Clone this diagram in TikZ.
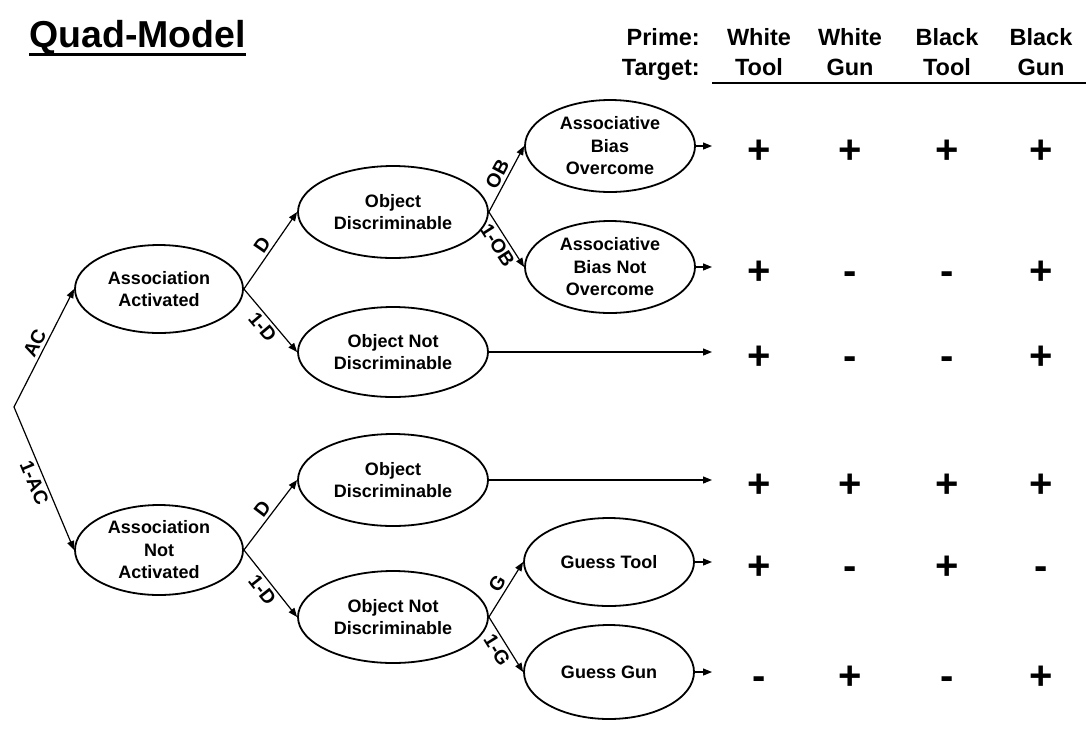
\documentclass[tikz,border=0pt]{standalone}
\usepackage{fontspec}
\setmainfont{Liberation Sans}
\usetikzlibrary{shapes.geometric,arrows.meta}
\begin{document}
\begin{tikzpicture}[x=1pt,y=-1pt,
  st/.style={draw, ellipse, line width=1.8pt, inner sep=0pt, align=center,
    font=\fontsize{18}{22.5}\selectfont\bfseries},
  conn/.style={line width=1.2pt, -{Triangle[length=9pt,width=7pt]}},
  lab/.style={sloped, font=\fontsize{19.5}{20}\selectfont\bfseries, inner sep=3pt},
  sym/.style={anchor=base, font=\fontsize{40}{40}\selectfont\bfseries, inner sep=0pt},
  hdr/.style={anchor=base, font=\fontsize{23.5}{26}\selectfont\bfseries, inner sep=0pt}]
\useasboundingbox (0,0) rectangle (1086,729);

% title
\node[anchor=base west, inner sep=0pt, font=\fontsize{37.5}{40}\selectfont\bfseries] (title) at (29,47) {Quad-Model};
\draw[line width=3pt] ([yshift=-7pt]title.base west) -- ([yshift=-7pt]title.base east);

% header
\node[hdr, anchor=base east] (prime) at (700,45) {Prime:};
\node[hdr] (p1) at (759,45) {White};
\node[hdr] (p2) at (850,45) {White};
\node[hdr] (p3) at (947,45) {Black};
\node[hdr] (p4) at (1041,45) {Black};
\node[hdr, anchor=base east] (target) at (700,75) {Target:};
\node[hdr] (t1) at (759,75) {Tool};
\node[hdr] (t2) at (850,75) {Gun};
\node[hdr] (t3) at (947,75) {Tool};
\node[hdr] (t4) at (1041,75) {Gun};
\coordinate (hl) at (712,83);
\coordinate (hr) at (1086,83);
\draw[line width=1.5pt] (hl) -- (hr);

% tree nodes
\coordinate (root) at (14,407);
\node[st, minimum width=168pt, minimum height=88pt] (aa) at (159,289) {Association\\Activated};
\node[st, minimum width=168pt, minimum height=90pt] (ana) at (159,550) {Association\\Not\\Activated};
\node[st, minimum width=190pt, minimum height=92pt] (od1) at (393,212) {Object\\Discriminable};
\node[st, minimum width=190pt, minimum height=90pt] (ond1) at (393,352) {Object Not\\Discriminable};
\node[st, minimum width=190pt, minimum height=92pt] (od2) at (393,480) {Object\\Discriminable};
\node[st, minimum width=190pt, minimum height=92pt] (ond2) at (393,617) {Object Not\\Discriminable};
\node[st, minimum width=170pt, minimum height=92pt] (abo) at (610,146) {Associative\\Bias\\Overcome};
\node[st, minimum width=170pt, minimum height=92pt] (abno) at (610,267) {Associative\\Bias Not\\Overcome};
\node[st, minimum width=170pt, minimum height=88pt] (gt) at (609,562) {Guess Tool};
\node[st, minimum width=170pt, minimum height=94pt] (gg) at (609,672) {Guess Gun};

% branches
\draw[conn] (root) -- node[lab, above] {AC} (aa.west);
\draw[conn] (root) -- node[lab, below] {1-AC} (ana.west);
\draw[conn] (aa.east) -- node[lab, above] {D} (od1.west);
\draw[conn] (aa.east) -- node[lab, below] {1-D} (ond1.west);
\draw[conn] (ana.east) -- node[lab, above] {D} (od2.west);
\draw[conn] (ana.east) -- node[lab, below] {1-D} (ond2.west);
\draw[conn] (od1.east) -- node[lab, above] {OB} (abo.west);
\draw[conn] (od1.east) -- node[lab, below] {1-OB} (abno.west);
\draw[conn] (ond2.east) -- node[lab, above] {G} (gt.west);
\draw[conn] (ond2.east) -- node[lab, below] {1-G} (gg.west);

% outcome arrows
\coordinate (e1) at (712,146);
\coordinate (e2) at (712,267);
\coordinate (e3) at (712,352);
\coordinate (e4) at (712,480);
\coordinate (e5) at (712,562);
\coordinate (e6) at (712,672);
\draw[conn] (abo.east) -- (e1);
\draw[conn] (abno.east) -- (e2);
\draw[conn] (ond1.east) -- (e3);
\draw[conn] (od2.east) -- (e4);
\draw[conn] (gt.east) -- (e5);
\draw[conn] (gg.east) -- (e6);

% outcome symbols
\foreach \y/\a/\b/\c/\d [count=\i] in {146/+/+/+/+, 267/+/-/-/+, 352/+/-/-/+, 480/+/+/+/+, 562/+/-/+/-, 672/-/+/-/+}{
  \node[sym] (s\i a) at (759,\y+17) {\a};
  \node[sym] (s\i b) at (850,\y+17) {\b};
  \node[sym] (s\i c) at (947,\y+17) {\c};
  \node[sym] (s\i d) at (1041,\y+17) {\d};
}
\end{tikzpicture}
\end{document}
